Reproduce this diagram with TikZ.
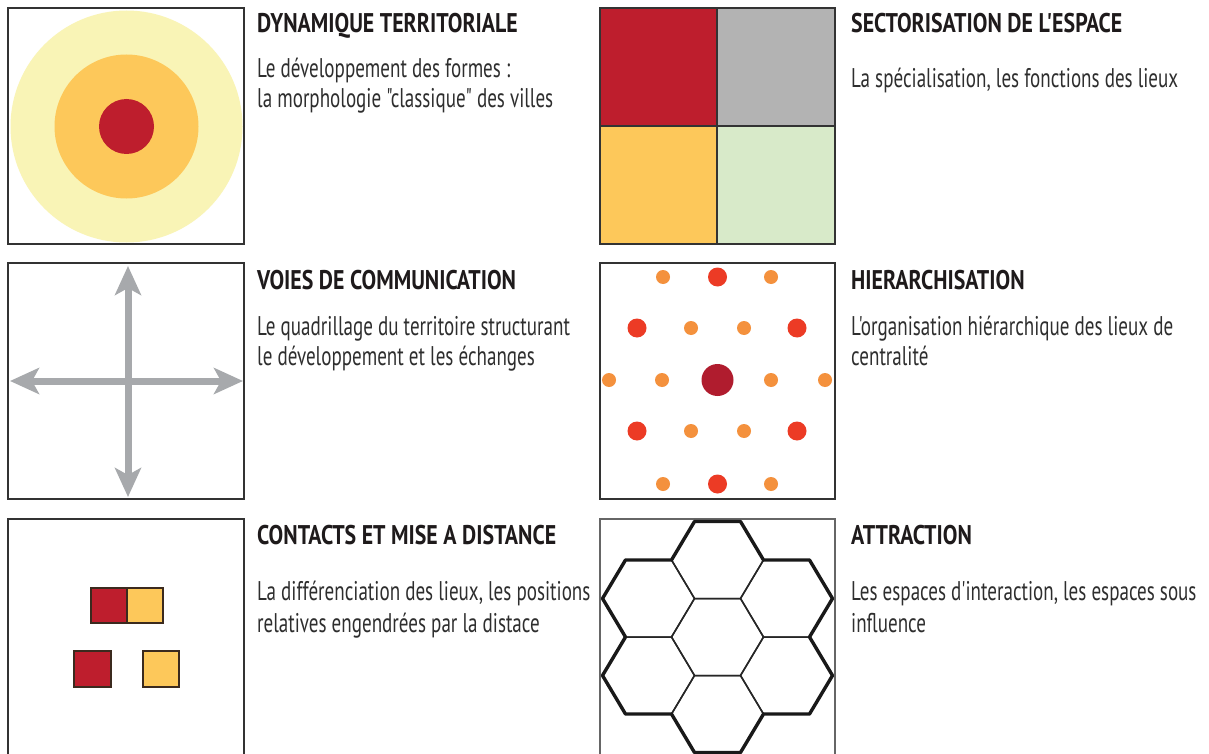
\documentclass[tikz,border=0pt]{standalone}
\usepackage{fontspec}
\setmainfont{PT Sans}
\newfontfamily\titlefont{PT Sans}[FakeStretch=0.81]
\newfontfamily\bodyfont{PT Sans}[FakeStretch=0.706]
\usetikzlibrary{arrows.meta}
\definecolor{cred}{HTML}{BE1E2D}
\definecolor{cgray}{HTML}{B3B3B3}
\definecolor{cyellow}{HTML}{FDC85A}
\definecolor{cgreen}{HTML}{D8EAC9}
\definecolor{cpale}{HTML}{F9F4B6}
\definecolor{dotbig}{HTML}{B01C2E}
\definecolor{dotred}{HTML}{EC3B25}
\definecolor{dotorange}{HTML}{F4913D}
\definecolor{arrowgray}{HTML}{A7A9AC}
\definecolor{framecol}{HTML}{333333}
\definecolor{titlecol}{HTML}{1E1A1B}
\definecolor{bodycol}{HTML}{2E2E2E}
\definecolor{sqline}{HTML}{3B2A1E}
\begin{document}
\begin{tikzpicture}[x=1pt,y=-1pt,
  frame/.style={draw=framecol, line width=2pt},
  ttl/.style={anchor=base west, inner sep=0pt, text=titlecol,
    font=\titlefont\bfseries\fontsize{27}{32}\selectfont},
  bdy/.style={anchor=base west, inner sep=0pt, text=bodycol,
    font=\bodyfont\fontsize{27}{32}\selectfont},
  road/.style={draw=arrowgray, line width=7pt,
    arrows={Stealth[length=29pt,width=26pt,inset=7pt]-Stealth[length=29pt,width=26pt,inset=7pt]}},
  sq/.style={draw=sqline, line width=2pt},
  hexthin/.style={draw=black!85, line width=1.5pt, line join=round},
  hexthick/.style={draw=black!90, line width=3.4pt, line join=round},
  dbig/.style={fill=dotbig},
  dred/.style={fill=dotred},
  dor/.style={fill=dotorange}]
\useasboundingbox (0,0) rectangle (1209,754);
\fill[white] (0,0) rectangle (1209,754);

% ---------- Panel 1 : dynamique territoriale
\fill[cpale] (126.5,126.5) circle[radius=116];
\fill[cyellow] (126.5,126.5) circle[radius=72];
\fill[cred] (126.5,126.5) circle[radius=27.5];
\draw[frame] (8,8) rectangle (244,244);
\node[ttl] (t1) at (257,33) {DYNAMIQUE TERRITORIALE};
\node[bdy] (b1a) at (257,78) {Le développement des formes :};
\node[bdy] (b1b) at (257,108) {la morphologie "classique" des villes};

% ---------- Panel 2 : sectorisation
\fill[cred] (600,8) rectangle (717,126);
\fill[cgray] (717,8) rectangle (835,126);
\fill[cyellow] (600,126) rectangle (717,244);
\fill[cgreen] (717,126) rectangle (835,244);
\draw[frame] (600,8) rectangle (835,244);
\draw[frame] (717,8) -- (717,244);
\draw[frame] (600,126) -- (835,126);
\node[ttl] (t2) at (851,33) {SECTORISATION DE L'ESPACE};
\node[bdy] (b2a) at (851,88) {La spécialisation, les fonctions des lieux};

% ---------- Panel 3 : voies de communication
\draw[frame] (8,263) rectangle (244,499);
\coordinate (vtop) at (128,266);
\coordinate (vbot) at (128,497);
\coordinate (hl) at (10,381);
\coordinate (hr) at (243,381);
\draw[road] (vbot) -- (vtop);
\draw[road] (hl) -- (hr);
\node[ttl] (t3) at (257,289) {VOIES DE COMMUNICATION};
\node[bdy] (b3a) at (257,335) {Le quadrillage du territoire structurant};
\node[bdy] (b3b) at (257,365) {le développement et les échanges};

% ---------- Panel 4 : hierarchisation
\draw[frame] (600,263) rectangle (835,499);
\fill[dbig] (717.5,380) circle[radius=16];
\foreach \p in {(717.5,277),(637,328),(797,328),(637,431),(797,431),(717.5,484)}
  \fill[dred] \p circle[radius=9.5];
\foreach \p in {(663,277),(771,277),(691,328),(744,328),(609,380),(662,380),(771,380),(825,380),(691,431),(744,431),(663,484),(771,484)}
  \fill[dor] \p circle[radius=7];
\node[ttl] (t4) at (851,289) {HIERARCHISATION};
\node[bdy] (b4a) at (851,335) {L'organisation hiérarchique des lieux de};
\node[bdy] (b4b) at (851,365) {centralité};

% ---------- Panel 5 : contacts et mise a distance
\draw[frame] (8,519) rectangle (244,756);
\filldraw[sq, fill=cred] (91,588) rectangle (127,623);
\filldraw[sq, fill=cyellow] (127,588) rectangle (162.5,623);
\filldraw[sq, fill=cred] (74,651) rectangle (110.5,686.5);
\filldraw[sq, fill=cyellow] (142.5,651) rectangle (178.5,686.5);
\node[ttl] (t5) at (257,544) {CONTACTS ET MISE A DISTANCE};
\node[bdy] (b5a) at (257,600) {La différenciation des lieux, les positions};
\node[bdy] (b5b) at (257,632) {relatives engendrées par la distace};

% ---------- Panel 6 : attraction
\draw[draw=black!60, line width=1.5pt] (600,519) rectangle (835,756);
\foreach \cx/\cy in {717.5/637,717.5/560,717.5/714,648.5/598.5,648.5/675.5,786.5/598.5,786.5/675.5}
  \draw[hexthin] (\cx-46,\cy) -- (\cx-23,\cy-38.5) -- (\cx+23,\cy-38.5) -- (\cx+46,\cy)
     -- (\cx+23,\cy+38.5) -- (\cx-23,\cy+38.5) -- cycle;
\draw[hexthick] (694.5,521.5) -- (740.5,521.5) -- (763.5,560) -- (809.5,560)
  -- (832.5,598.5) -- (809.5,637) -- (832.5,675.5) -- (809.5,714) -- (763.5,714)
  -- (740.5,752.5) -- (694.5,752.5) -- (671.5,714) -- (625.5,714) -- (602.5,675.5)
  -- (625.5,637) -- (602.5,598.5) -- (625.5,560) -- (671.5,560) -- cycle;
\node[ttl] (t6) at (851,544) {ATTRACTION};
\node[bdy] (b6a) at (851,600) {Les espaces d'interaction, les espaces sous};
\node[bdy] (b6b) at (851,632) {influence};
\end{tikzpicture}
\end{document}
